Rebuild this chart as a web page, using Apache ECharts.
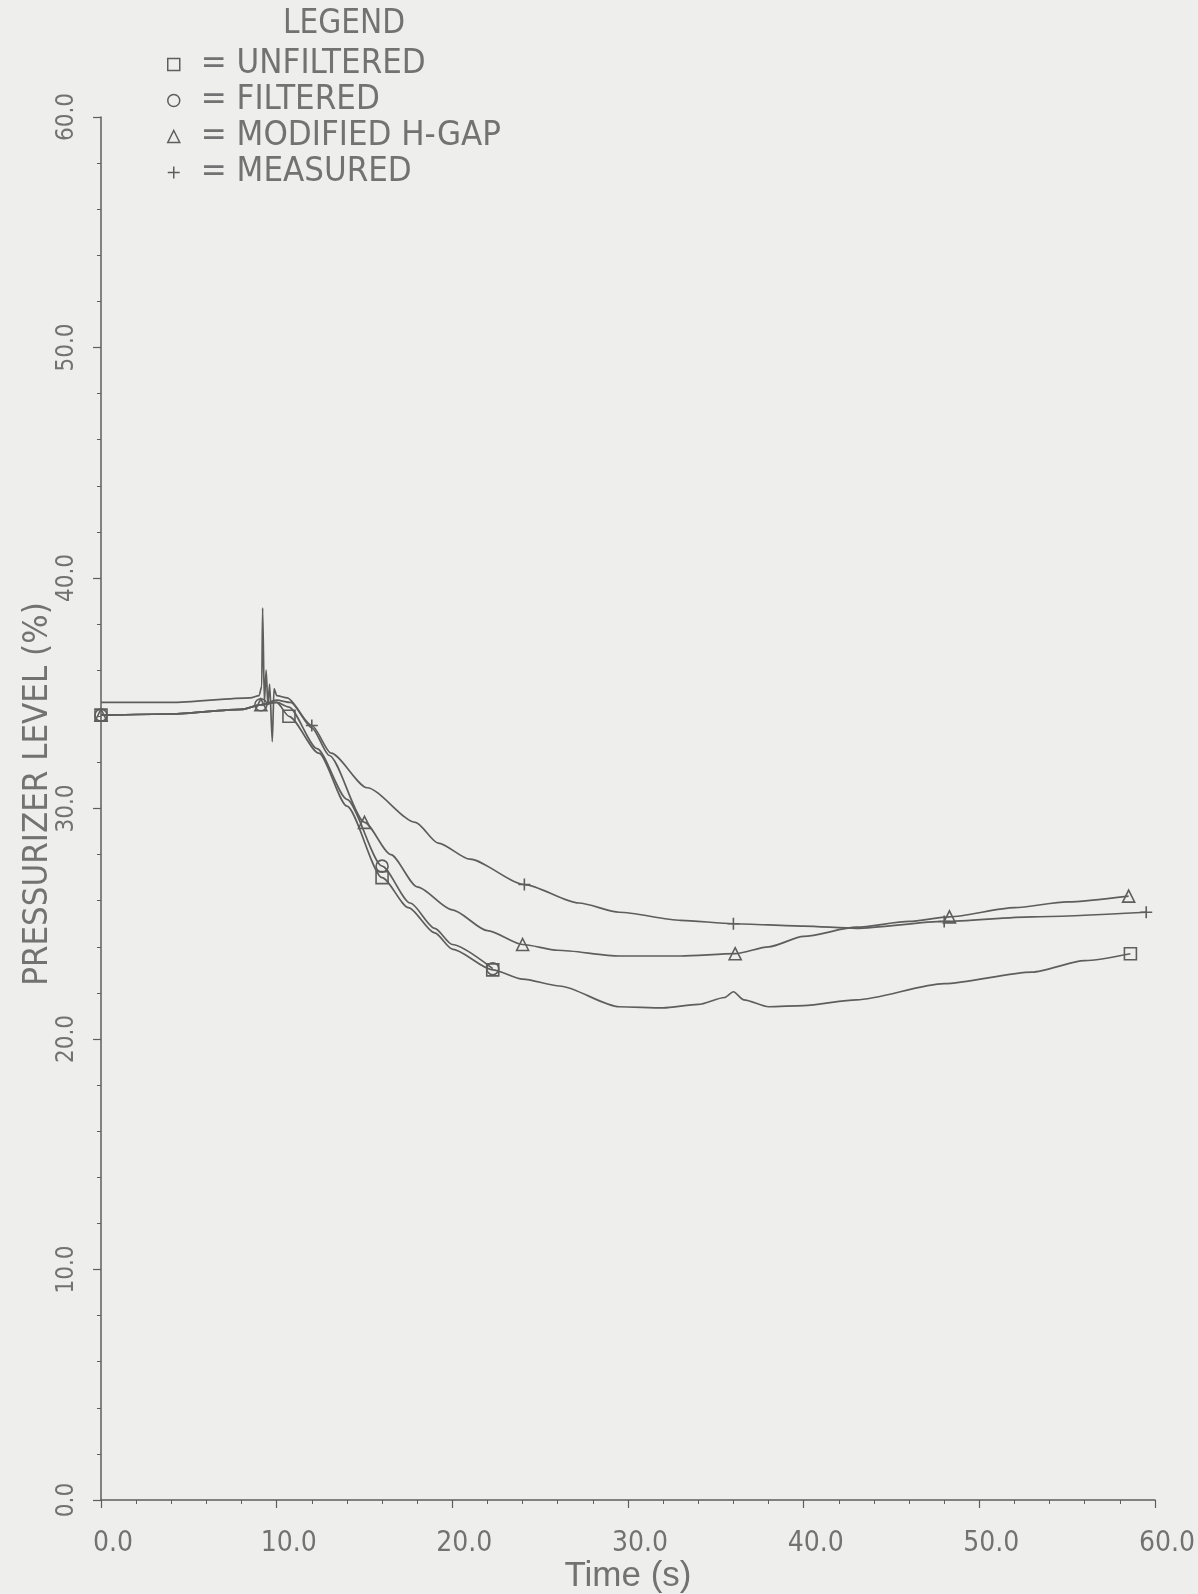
<!DOCTYPE html>
<html>
<head>
<meta charset="utf-8">
<script src="https://cdn.jsdelivr.net/npm/echarts@6/dist/echarts.min.js"></script>
<style>
html,body{margin:0;padding:0;background:#eeeeec;}
#chart{width:1198px;height:1594px;}
</style>
</head>
<body>
<div id="chart"></div>
<script>
// ---- data ----
const unfilteredT = [0, 4, 8, 9.1, 10, 10.7, 12.4, 14, 16, 17.5, 19, 20, 22.3, 24, 26.1, 29.5, 32, 34, 35.5, 36, 36.6, 38, 40, 43, 48, 53, 56, 58.6];
const unfilteredV = [34.05, 34.1, 34.3, 34.5, 34.6, 34.0, 32.4, 30.1, 27.0, 25.7, 24.6, 23.9, 23.0, 22.6, 22.3, 21.4, 21.35, 21.5, 21.8, 22.05, 21.7, 21.4, 21.45, 21.7, 22.4, 22.9, 23.4, 23.7];
const unfilteredMarks = [0, 10.7, 16, 22.3, 58.6];

const filteredT = [0, 4, 8, 9.1, 10, 10.7, 12.3, 14, 16, 17.6, 19, 20, 22.3];
const filteredV = [34.05, 34.1, 34.3, 34.5, 34.6, 34.4, 32.6, 30.4, 27.5, 25.9, 24.8, 24.1, 23.05];
const filteredMarks = [0, 9.1, 16, 22.3];

const hgapT = [0, 4, 8, 9.1, 10, 10.8, 12, 13, 15, 16.5, 18, 20, 22, 24, 26, 29.5, 33, 36.1, 38, 40, 43, 46, 48.3, 52, 55, 58.5];
const hgapV = [34.05, 34.1, 34.3, 34.5, 34.7, 34.6, 33.5, 32.3, 29.4, 28.0, 26.6, 25.6, 24.7, 24.1, 23.85, 23.6, 23.6, 23.7, 24.0, 24.45, 24.85, 25.1, 25.3, 25.7, 25.95, 26.2];
const hgapMarks = [0, 9.1, 15, 24, 36.1, 48.3, 58.5];

const measuredT = [0, 4, 8.5, 9.0, 9.15, 9.2, 9.3, 9.4, 9.5, 9.6, 9.75, 9.85, 10.0, 10.6, 12, 13.1, 15.15, 17.9, 19.2, 21, 24.1, 27.2, 29.5, 33, 36, 40, 43, 48, 53, 59.5];
const measuredV = [34.6, 34.6, 34.8, 34.9, 35.3, 38.7, 34.6, 36.0, 34.5, 35.4, 32.9, 35.2, 34.9, 34.8, 33.6, 32.4, 30.9, 29.4, 28.5, 27.8, 26.7, 25.9, 25.5, 25.15, 25.0, 24.9, 24.8, 25.1, 25.3, 25.5];
const measuredMarks = [12, 24.1, 36, 48, 59.5];

const seriesNames = ['UNFILTERED', 'FILTERED', 'MODIFIED H-GAP', 'MEASURED'];
const xTicks = [0, 10, 20, 30, 40, 50, 60];
const yTicks = [0, 10, 20, 30, 40, 50, 60];

// ---- styling ----
const FONT = 'Liberation Sans';
const NARROW = "'Liberation Sans Narrow', 'DejaVu Sans Condensed', 'Liberation Sans', sans-serif";
const INK = '#5e5e5e';
const TXT = '#727272';
const BG = '#eeeeec';
const PLUS = 'path://M6,0L6,12M0,6L12,6';
const symbols = ['rect', 'circle', 'triangle', PLUS];

function build(ts, vs, marks, sym) {
  return ts.map((t, i) => ({
    value: [t, vs[i]],
    symbol: marks.indexOf(t) >= 0 ? sym : 'none'
  }));
}

const sets = [
  [unfilteredT, unfilteredV, unfilteredMarks],
  [filteredT, filteredV, filteredMarks],
  [hgapT, hgapV, hgapMarks],
  [measuredT, measuredV, measuredMarks]
];

const chart = echarts.init(document.getElementById('chart'), null, {renderer: 'canvas'});
chart.setOption({
  backgroundColor: BG,
  animation: false,
  textStyle: {fontFamily: FONT},
  graphic: [{
    type: 'text', left: 283, top: 8,
    style: {text: 'LEGEND', fontFamily: NARROW, fontSize: 33, fill: TXT}
  }],
  legend: {
    orient: 'vertical', left: 162, top: 42,
    itemWidth: 12, itemHeight: 12, itemGap: 1,
    data: seriesNames.map((n, i) => ({name: n, icon: symbols[i]})),
    itemStyle: {color: 'transparent', borderColor: INK, borderWidth: 1.5},
    textStyle: {fontFamily: NARROW, fontSize: 34.5, color: TXT, lineHeight: 34, padding: [0, 0, 0, 16]},
    formatter: n => '= ' + n,
    selectedMode: false
  },
  grid: {left: 101, right: 43, top: 117, bottom: 94, containLabel: false, outerBoundsMode: 'none'},
  xAxis: {
    type: 'value', min: xTicks[0], max: xTicks[xTicks.length - 1], interval: 10,
    name: 'Time (s)', nameLocation: 'middle', nameGap: 59, nameMoveOverlap: false,
    nameTextStyle: {fontFamily: FONT, fontSize: 35, color: TXT},
    axisLine: {show: true, lineStyle: {color: INK, width: 1.5}},
    axisTick: {show: true, inside: false, length: 8, lineStyle: {color: INK, width: 1.2}},
    minorTick: {show: true, splitNumber: 5, length: 4, lineStyle: {color: INK, width: 1}},
    axisLabel: {fontFamily: NARROW, fontSize: 28, color: TXT, margin: 30, padding: [0, 0, 0, 24], formatter: v => v.toFixed(1)},
    splitLine: {show: false}
  },
  yAxis: {
    type: 'value', min: yTicks[0], max: yTicks[yTicks.length - 1], interval: 10,
    name: 'PRESSURIZER LEVEL (%)', nameLocation: 'middle', nameGap: 45, nameRotate: 90, nameMoveOverlap: false,
    nameTextStyle: {fontFamily: NARROW, fontSize: 34.5, color: TXT, padding: [0, 0, 0, 29]},
    axisLine: {show: true, lineStyle: {color: INK, width: 1.5}},
    axisTick: {show: true, inside: false, length: 8, lineStyle: {color: INK, width: 1.2}},
    minorTick: {show: true, splitNumber: 5, length: 4, lineStyle: {color: INK, width: 1}},
    axisLabel: {fontFamily: NARROW, fontSize: 24, color: TXT, margin: 22, rotate: 90, formatter: v => v.toFixed(1)},
    splitLine: {show: false}
  },
  series: sets.map((s, i) => ({
    name: seriesNames[i],
    type: 'line',
    data: build(s[0], s[1], s[2], symbols[i]),
    showAllSymbol: true,
    symbolSize: 12,
    smooth: 0.25,
    smoothMonotone: 'x',
    lineStyle: {color: INK, width: 1.7},
    itemStyle: {color: 'transparent', borderColor: INK, borderWidth: 1.6},
    emphasis: {disabled: true}
  }))
});
</script>
</body>
</html>
